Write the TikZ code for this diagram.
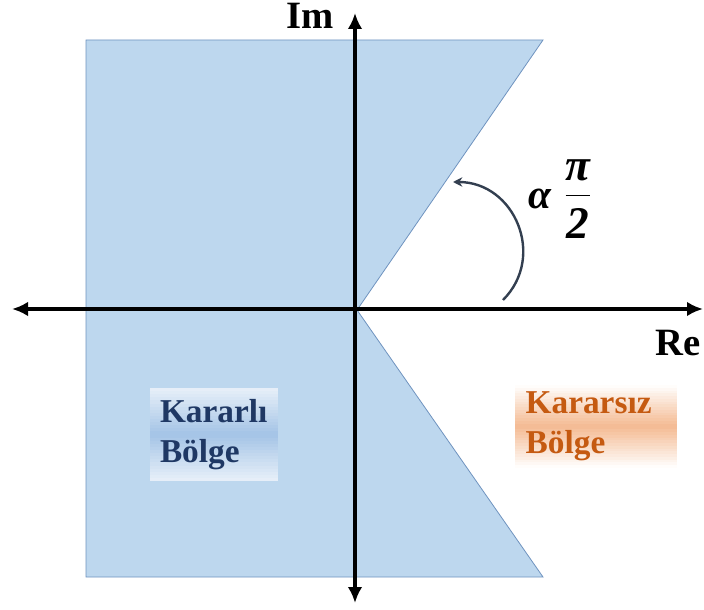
\documentclass[tikz,border=0pt]{standalone}
\usepackage{fontspec}
\setmainfont{Liberation Serif}
\usetikzlibrary{arrows.meta, positioning, calc}

\definecolor{regionfill}{HTML}{BDD7EE}
\definecolor{regionline}{HTML}{6F93BF}
\definecolor{stableblue}{HTML}{1F3864}
\definecolor{stableshade}{HTML}{A4C4E6}
\definecolor{stableedge}{HTML}{E8F0F9}
\definecolor{unstableorange}{HTML}{C55A11}
\definecolor{unstableshade}{HTML}{F4BA92}
\definecolor{arcgray}{HTML}{333F50}

\begin{document}
\begin{tikzpicture}[x=0.75pt, y=-0.75pt,
  axis/.style={line width=3pt, {Latex[length=12pt,width=11pt]}-{Latex[length=12pt,width=11pt]}},
  axislabel/.style={font=\fontsize{29}{30}\selectfont\bfseries, anchor=base, inner sep=0pt},
  regionbox/.style={font=\fontsize{25}{30}\selectfont\bfseries, align=left, inner xsep=7.5pt, inner ysep=0pt}]
\useasboundingbox (0,0) rectangle (704,610);

% stable region
\filldraw[fill=regionfill, draw=regionline, line width=0.6pt]
  (86,40) -- (543,40) -- (357,310) -- (543,577) -- (86,577) -- cycle;

% axes
\coordinate (west) at (12,309);
\coordinate (east) at (703,309);
\coordinate (north) at (355,13);
\coordinate (south) at (355,603);
\draw[axis] (west) -- (east);
\draw[axis] (south) -- (north);
\node (im) [axislabel] at (310,29) {Im};
\node (re) [axislabel] at (678,355) {Re};

% angle
\coordinate (arcstart) at (503,300);
\coordinate (arcend) at (453,182);
\draw[arcgray, line width=1.8pt, -{Stealth[length=7pt,width=7pt]}]
  (arcstart) .. controls (546.5,256.5) and (514.5,182) .. (arcend);
\node (alpha) [font=\fontsize{31}{32}\selectfont\bfseries\itshape, anchor=base, inner sep=0pt] at (540,208) {α};
\node (frac) [font=\fontsize{34}{36}\selectfont, inner sep=0pt, anchor=center] at (578,199)
  {$\displaystyle\frac{\mbox{\bfseries\itshape π}\rule[-10pt]{0pt}{10pt}}{\rule{0pt}{31pt}\mbox{\bfseries\itshape 2}}$};

% region label backgrounds (soft bands)
\foreach \i in {0,...,29}{
  \pgfmathsetmacro{\mix}{100*(1-abs(2*(\i+0.5)/30-1))}
  \fill[stableshade!\mix!stableedge] (150,{388+\i*93/30}) rectangle (278,{388+(\i+1)*93/30+0.4});
  \fill[unstableshade!\mix!white] (515,{385+\i*83/30}) rectangle (677,{385+(\i+1)*83/30+0.4});
}

% region labels
\node (kararli) [regionbox, text=stableblue, text width=81pt, minimum height=69.75pt] at (214,434.5)
  {Kararlı\\Bölge};
\node (kararsiz) [regionbox, text=unstableorange, text width=104.75pt, minimum height=62.25pt] at (595.5,426.5)
  {Kararsız\\Bölge};
\end{tikzpicture}
\end{document}
